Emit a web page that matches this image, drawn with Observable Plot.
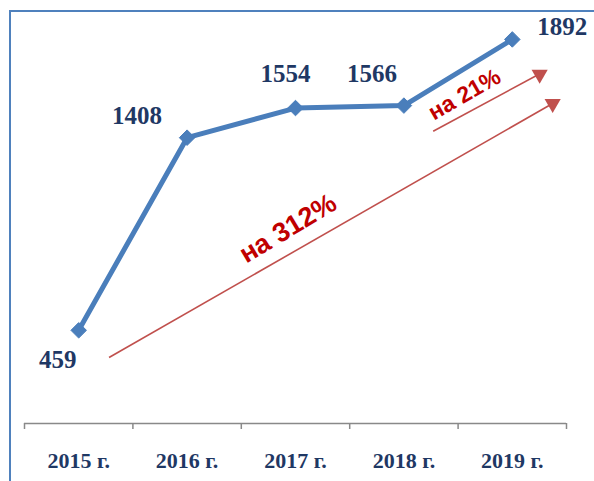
<!DOCTYPE html>
<html>
<head>
<meta charset="utf-8">
<script src="https://cdn.jsdelivr.net/npm/d3@7"></script>
<script src="https://cdn.jsdelivr.net/npm/@observablehq/plot@0.6"></script>
<style>
  html, body { margin: 0; padding: 0; background: #fff; }
  #wrap { position: relative; width: 594px; height: 481px; overflow: hidden; }
  #frame { position: absolute; left: 9px; top: 10px; right: -4px; bottom: -4px;
           border-left: 2px solid #4F81BD; border-top: 2px solid #4F81BD; pointer-events: none; }
  svg { display: block; }
</style>
</head>
<body>
<div id="wrap"><div id="frame"></div></div>
<script>
// Data
const years = ["2015 г.", "2016 г.", "2017 г.", "2018 г.", "2019 г."];
const values = [459, 1408, 1554, 1566, 1892];

// Annotation arrows (in data coordinates: category index, value)
const arrowStartX = [0.28, 3.27];
const arrowStartY = [325, 1440];
const arrowEndX = [4.4, 4.28];
const arrowEndY = [1585, 1730];

// Annotation texts
const noteText = ["на 312%", "на 21%"];
const noteX = [1.93, 3.56];
const noteY = [960, 1620];

const data = years.map((y, i) => ({i, year: y, value: values[i]}));
const arrows = arrowStartX.map((_, k) => ({x1: arrowStartX[k], y1: arrowStartY[k], x2: arrowEndX[k], y2: arrowEndY[k]}));
const notes = noteText.map((t, k) => ({text: t, x: noteX[k], y: noteY[k]}));
const bounds = d3.range(years.length + 1).map(k => k - 0.5);

const blue = "#4A7EBB";
const navy = "#1F3864";
const serif = "'Times New Roman', 'Liberation Serif', serif";
const sans = "Arial, 'Liberation Sans', sans-serif";

const labelOffsets = [[-21, 30], [-50, -22], [-10, -34], [-32, -32], [50, -12]];

const plot = Plot.plot({
  width: 594,
  height: 481,
  marginLeft: 24,
  marginRight: 28,
  marginTop: 17,
  marginBottom: 58,
  x: {domain: [-0.5, 4.5], axis: null},
  y: {domain: [0, 2000], axis: null},
  marks: [
    Plot.ruleY([0], {stroke: "#898989", strokeWidth: 1.5}),
    Plot.ruleX(bounds, {x: d => d, y1: 0, y2: 0, insetBottom: -6, stroke: "#898989", strokeWidth: 1.5}),
    Plot.text(data, {x: "i", y: 0, text: "year", dy: 37, fill: navy, fontSize: 22, fontWeight: "bold", fontFamily: serif}),
    Plot.link(arrows, {x1: "x1", y1: "y1", x2: "x2", y2: "y2", stroke: "#C0504D", strokeWidth: 1.6}),
    Plot.dot(arrows, {x: "x2", y: "y2", symbol: "triangle", r: 6, rotate: 60, fill: "#C0504D", stroke: "none", dx: -3, dy: 2}),
    Plot.text(notes.slice(0, 1), {x: "x", y: "y", text: "text", rotate: -31, fill: "#C00000", fontSize: 27, fontWeight: "bold", fontFamily: sans}),
    Plot.text(notes.slice(1), {x: "x", y: "y", text: "text", rotate: -30, fill: "#C00000", fontSize: 23, fontWeight: "bold", fontFamily: sans}),
    Plot.line(data, {x: "i", y: "value", stroke: blue, strokeWidth: 5}),
    Plot.dot(data, {x: "i", y: "value", symbol: "diamond2", r: 7, fill: blue, stroke: blue, strokeWidth: 1}),
    ...data.map((d, k) => Plot.text([d], {x: "i", y: "value", text: d => String(d.value), dx: labelOffsets[k][0], dy: labelOffsets[k][1], fill: navy, fontSize: 25, fontWeight: "bold", fontFamily: serif}))
  ]
});
document.getElementById("wrap").prepend(plot);
</script>
</body>
</html>
